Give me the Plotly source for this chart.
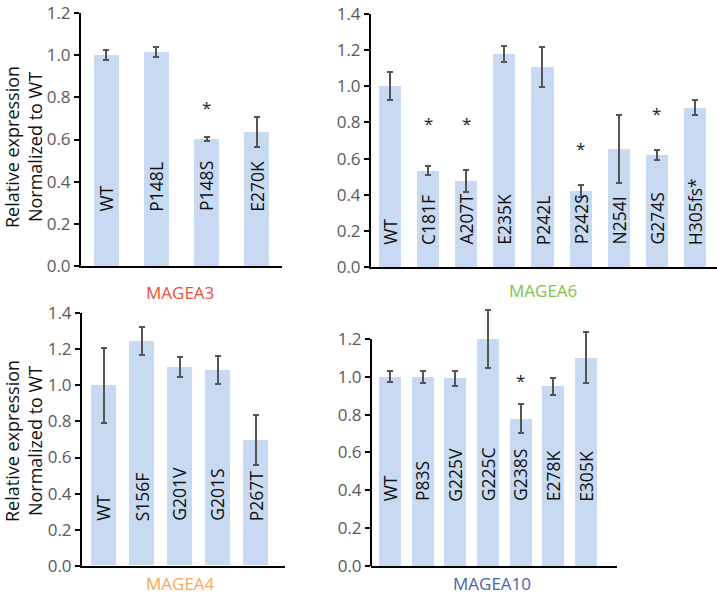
import plotly.graph_objects as go

# ---------------- data ----------------
a3_cats = ["WT", "P148L", "P148S", "E270K"]
a3_vals = [1.0, 1.015, 0.602, 0.636]
a3_err = [0.024, 0.025, 0.011, 0.071]
a3_star_cats = ["P148S"]
a3_star_y = [0.764]

a6_cats = ["WT", "C181F", "A207T", "E235K", "P242L", "P242S", "N254I", "G274S", "H305fs*"]
a6_vals = [1.0, 0.532, 0.476, 1.18, 1.108, 0.419, 0.653, 0.621, 0.882]
a6_err = [0.077, 0.025, 0.06, 0.045, 0.11, 0.033, 0.19, 0.028, 0.042]
a6_star_cats = ["C181F", "A207T", "P242S", "G274S"]
a6_star_y = [0.81, 0.81, 0.67, 0.866]

a4_cats = ["WT", "S156F", "G201V", "G201S", "P267T"]
a4_vals = [1.0, 1.246, 1.102, 1.085, 0.697]
a4_err = [0.21, 0.08, 0.053, 0.076, 0.14]
a4_star_cats = []
a4_star_y = []

a10_cats = ["WT", "P83S", "G225V", "G225C", "G238S", "E278K", "E305K"]
a10_vals = [1.0, 1.0, 0.992, 1.198, 0.779, 0.95, 1.101]
a10_err = [0.028, 0.032, 0.039, 0.153, 0.077, 0.044, 0.134]
a10_star_cats = ["G238S"]
a10_star_y = [0.997]

y_ticks_12 = [0.0, 0.2, 0.4, 0.6, 0.8, 1.0, 1.2]
y_ticks_14 = [0.0, 0.2, 0.4, 0.6, 0.8, 1.0, 1.2, 1.4]

titles = ["MAGEA3", "MAGEA6", "MAGEA4", "MAGEA10"]
title_colors = ["#E8503A", "#7DC04A", "#F4A857", "#4A63AE"]
y_title = "Relative expression<br>Normalized to WT"

# ---------------- styling / layout ----------------
W, H = 717, 594
FONT = "Open Sans"
BAR_COLOR = "#C7DAF1"
ERR_COLOR = "#555555"

def px_x(p):
    return p / W

def px_y(p):
    return 1 - p / H

panels = [
    dict(c=a3_cats, v=a3_vals, e=a3_err, sc=a3_star_cats, sy=a3_star_y,
         xd=(81, 282), yd=(13, 266), xr=[-0.5, 3.5], yr=[0, 1.2], tv=y_ticks_12,
         lb=0.25, bw=0.5, tpos=(180, 292)),
    dict(c=a6_cats, v=a6_vals, e=a6_err, sc=a6_star_cats, sy=a6_star_y,
         xd=(371, 717), yd=(14, 267), xr=[-0.5, 8.58], yr=[0, 1.4], tv=y_ticks_14,
         lb=0.112, bw=0.58, tpos=(543, 291)),
    dict(c=a4_cats, v=a4_vals, e=a4_err, sc=a4_star_cats, sy=a4_star_y,
         xd=(82, 285), yd=(313.3, 565.7), xr=[-0.566, 4.776], yr=[0, 1.4], tv=y_ticks_14,
         lb=0.235, bw=0.66, tpos=(180, 583)),
    dict(c=a10_cats, v=a10_vals, e=a10_err, sc=a10_star_cats, sy=a10_star_y,
         xd=(371, 616.7), yd=(301.1, 566), xr=[-0.58, 6.94], yr=[0, 1.4], tv=y_ticks_12,
         lb=0.331, bw=0.67, tpos=(492, 583), axis_top=1.2),
]

fig = go.Figure()
annotations = []
shapes = []

for i, p in enumerate(panels, start=1):
    xa = "x" if i == 1 else f"x{i}"
    ya = "y" if i == 1 else f"y{i}"
    fig.add_trace(go.Bar(
        x=p["c"], y=p["v"], xaxis=xa, yaxis=ya,
        marker=dict(color=BAR_COLOR, line=dict(width=0)),
        width=p["bw"],
        error_y=dict(type="data", array=p["e"], visible=True,
                     color=ERR_COLOR, thickness=2, width=3),
        showlegend=False, hoverinfo="skip",
    ))
    for sc, sy in zip(p["sc"], p["sy"]):
        annotations.append(dict(
            x=sc, y=sy, xref=xa, yref=ya, text="*", showarrow=False,
            font=dict(family=FONT, size=17, color="#222222"),
            xanchor="center", yanchor="middle", yshift=-3,
        ))
    for c in p["c"]:
        annotations.append(dict(
            x=c, y=p["lb"], xref=xa, yref=ya, text=c, showarrow=False,
            textangle=-90, xanchor="center", yanchor="bottom",
            font=dict(family=FONT, size=17.5, color="#111111"),
        ))
    annotations.append(dict(
        x=px_x(p["tpos"][0]), y=px_y(p["tpos"][1]), xref="paper", yref="paper",
        text=titles[i - 1], showarrow=False, xanchor="center", yanchor="middle",
        font=dict(family=FONT, size=17, color=title_colors[i - 1]),
    ))
    custom_axis = "axis_top" in p
    xkey = "xaxis" if i == 1 else f"xaxis{i}"
    ykey = "yaxis" if i == 1 else f"yaxis{i}"
    fig.layout[xkey] = dict(
        domain=[px_x(p["xd"][0]), px_x(p["xd"][1])], range=p["xr"],
        anchor=ya, showline=True, linecolor="black", linewidth=2,
        showticklabels=False, ticks="", showgrid=False, zeroline=False,
        type="category", fixedrange=True, automargin=False,
    )
    fig.layout[ykey] = dict(
        domain=[px_y(p["yd"][1]), px_y(p["yd"][0])], range=p["yr"],
        anchor=xa, showline=not custom_axis, linecolor="black", linewidth=2,
        ticks="outside", ticklen=5, tickwidth=1.5, tickcolor="black",
        tickvals=p["tv"], ticktext=[f"{t:.1f}" for t in p["tv"]],
        tickfont=dict(family=FONT, size=17, color="#5a5a5a"),
        showgrid=False, zeroline=False, fixedrange=True, automargin=False,
    )
    if custom_axis:
        shapes.append(dict(
            type="line", xref="paper", yref=ya,
            x0=px_x(p["xd"][0]), x1=px_x(p["xd"][0]), y0=0, y1=p["axis_top"],
            line=dict(color="black", width=2),
        ))

for yc in (147, 441):
    annotations.append(dict(
        x=px_x(23), y=px_y(yc), xref="paper", yref="paper", text=y_title,
        showarrow=False, textangle=-90, xanchor="center", yanchor="middle",
        font=dict(family=FONT, size=18, color="#111111"),
    ))

fig.update_layout(
    width=W, height=H,
    margin=dict(l=0, r=0, t=0, b=0, pad=0, autoexpand=False),
    paper_bgcolor="white", plot_bgcolor="white",
    annotations=annotations, shapes=shapes, bargap=0,
    font=dict(family=FONT),
)

fig.write_html(
    "out.html",
    config={"displayModeBar": False},
    post_script="document.body.style.margin='0';document.body.style.overflow='hidden';",
)
